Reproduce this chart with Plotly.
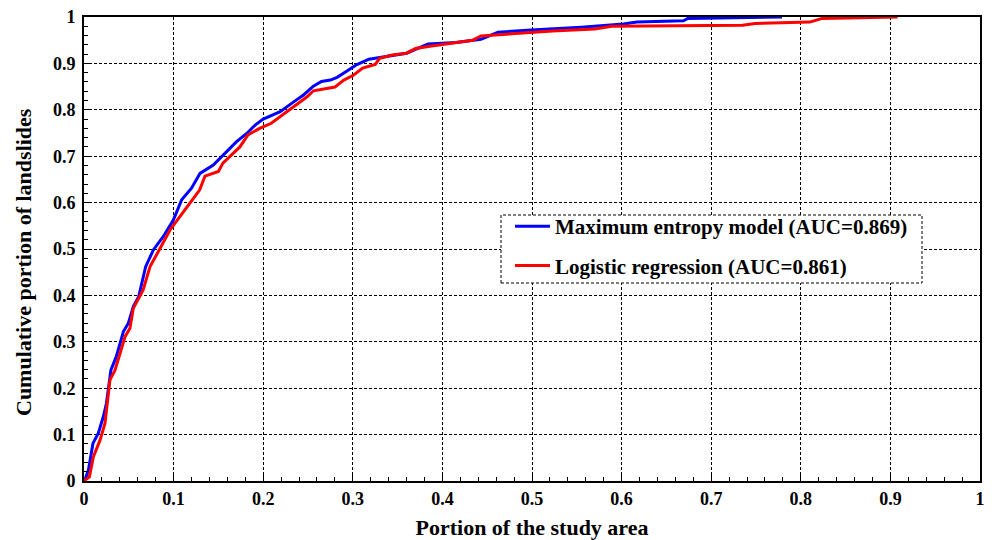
import plotly.graph_objects as go

# Maximum entropy model success curve
maxent_x = [0.0, 0.001, 0.005, 0.010, 0.016, 0.0216, 0.025, 0.030, 0.036, 0.044, 0.0495, 0.055, 0.061,
            0.0688, 0.0774, 0.0885, 0.0997, 0.109, 0.120, 0.1295, 0.1443, 0.159, 0.170, 0.1816, 0.191,
            0.200, 0.219, 0.234, 0.245, 0.256, 0.265, 0.275, 0.2825, 0.294, 0.304, 0.318, 0.334, 0.360,
            0.384, 0.415, 0.443, 0.462, 0.499, 0.555, 0.602, 0.617, 0.669, 0.674, 0.779]
maxent_y = [0.0, 0.002, 0.024, 0.081, 0.103, 0.139, 0.167, 0.239, 0.268, 0.322, 0.340, 0.376, 0.397,
            0.462, 0.498, 0.527, 0.5625, 0.606, 0.631, 0.663, 0.681, 0.710, 0.731, 0.749, 0.767,
            0.780, 0.796, 0.817, 0.832, 0.851, 0.861, 0.864, 0.870, 0.884, 0.897, 0.909, 0.914, 0.922,
            0.942, 0.945, 0.952, 0.967, 0.972, 0.978, 0.985, 0.989, 0.992, 0.997, 1.0]

# Logistic regression curve
logit_x = [0.0, 0.006, 0.0104, 0.0179, 0.0234, 0.029, 0.0346, 0.040, 0.0458, 0.0513, 0.055, 0.066,
           0.0737, 0.0848, 0.096, 0.107, 0.118, 0.129, 0.135, 0.150, 0.155, 0.167, 0.174, 0.183,
           0.196, 0.209, 0.217, 0.230, 0.241, 0.249, 0.256, 0.271, 0.280, 0.290, 0.301, 0.311,
           0.325, 0.330, 0.344, 0.360, 0.370, 0.386, 0.415, 0.434, 0.443, 0.481, 0.523, 0.570,
           0.589, 0.735, 0.749, 0.810, 0.824, 0.908]
logit_y = [0.0, 0.009, 0.052, 0.088, 0.124, 0.218, 0.239, 0.272, 0.311, 0.329, 0.372, 0.412,
           0.462, 0.501, 0.541, 0.570, 0.598, 0.627, 0.657, 0.667, 0.685, 0.706, 0.720, 0.746,
           0.760, 0.771, 0.782, 0.800, 0.817, 0.828, 0.841, 0.846, 0.849, 0.864, 0.875, 0.890,
           0.898, 0.911, 0.918, 0.922, 0.932, 0.937, 0.945, 0.950, 0.959, 0.965, 0.970, 0.974,
           0.980, 0.982, 0.986, 0.989, 0.997, 1.0]

tick_vals = [0, 0.1, 0.2, 0.3, 0.4, 0.5, 0.6, 0.7, 0.8, 0.9, 1]
tick_text = ["0", "0.1", "0.2", "0.3", "0.4", "0.5", "0.6", "0.7", "0.8", "0.9", "1"]

names = ["Maximum entropy model (AUC=0.869)", "Logistic regression (AUC=0.861)"]
x_title = "Portion of the study area"
y_title = "Cumulative portion of landslides"

FONT = "Liberation Serif, Times New Roman, serif"

fig = go.Figure()
fig.add_trace(go.Scatter(x=maxent_x, y=maxent_y, mode="lines", name=names[0],
                         legendgroup="a", line=dict(color="#0000ff", width=3)))
fig.add_trace(go.Scatter(x=logit_x, y=logit_y, mode="lines", name=names[1],
                         legendgroup="b", line=dict(color="#ff0000", width=3)))

axis_common = dict(
    range=[0, 1], tickvals=tick_vals, ticktext=tick_text, automargin=False,
    showgrid=True, gridcolor="black", gridwidth=1, griddash="3px,2px",
    showline=True, linecolor="black", linewidth=2, mirror=True,
    ticks="inside", ticklen=6, tickcolor="black", tickwidth=1,
    minor=dict(dtick=0.02, ticks="inside", ticklen=4, tickcolor="black", tickwidth=1, showgrid=False),
    zeroline=False, ticklabeloverflow="allow",
    tickfont=dict(family=FONT, size=18, color="black", weight="bold"),
)

fig.update_xaxes(**axis_common,
                 title=dict(text=x_title, standoff=14,
                            font=dict(family=FONT, size=22, color="black", weight="bold")))
fig.update_yaxes(**axis_common, ticklabelstandoff=3)

# page body has an 8px default margin, so figure is 984x532 placed at (8, 8)
fig.update_layout(
    width=984, height=532,
    margin=dict(l=76, r=12, t=9, b=59),
    paper_bgcolor="white", plot_bgcolor="white",
    showlegend=True,
    legend=dict(x=(510 - 84) / 896, y=(481 - 206) / 464, xanchor="left", yanchor="top",
                bgcolor="rgba(0,0,0,0)", borderwidth=0, itemwidth=35, tracegroupgap=9,
                font=dict(family=FONT, size=21, color="black", weight="bold")),
    shapes=[dict(type="rect", xref="paper", yref="paper",
                 x0=(501 - 84) / 896, x1=(922 - 84) / 896,
                 y0=(481 - 283) / 464, y1=(481 - 215) / 464,
                 line=dict(color="black", width=1, dash="3px,2px"),
                 fillcolor="white", layer="above")],
    annotations=[dict(text=y_title, textangle=-90, xref="paper", yref="paper",
                      x=(24 - 84) / 896, y=(481 - 262) / 464, xanchor="center", yanchor="middle",
                      showarrow=False,
                      font=dict(family=FONT, size=22, color="black", weight="bold"))],
)

fig.write_html("out.html")
